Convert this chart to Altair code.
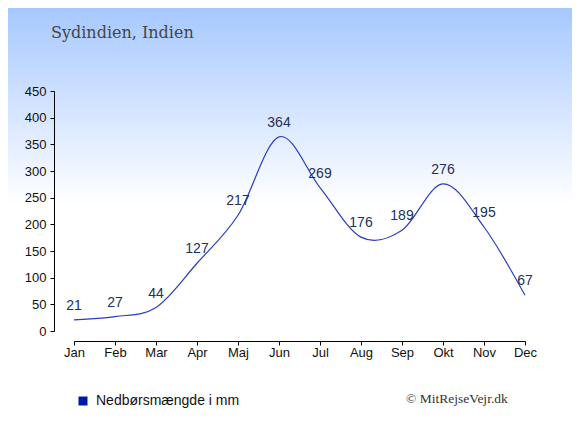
import altair as alt
import pandas as pd

months = ["Jan", "Feb", "Mar", "Apr", "Maj", "Jun", "Jul", "Aug", "Sep", "Okt", "Nov", "Dec"]
values = [21, 27, 44, 127, 217, 364, 269, 176, 189, 276, 195, 67]
series_name = "Nedbørsmængde i mm"
title_text = "Sydindien, Indien"
credit_text = "© MitRejseVejr.dk"
y_ticks = [0, 50, 100, 150, 200, 250, 300, 350, 400, 450]

df = pd.DataFrame({"month": months, "value": values, "series": [series_name] * len(months)})

W, H = 451, 240
PL, PT, PR, PB = 66, 83, 47, 95

gradient = alt.LinearGradient(
    gradient="linear",
    stops=[
        alt.GradientStop(color="#a6c8ff", offset=0),
        alt.GradientStop(color="#ffffff", offset=0.47),
        alt.GradientStop(color="#ffffff", offset=1),
    ],
    x1=0, x2=0, y1=0, y2=1,
)

bg = alt.Chart(pd.DataFrame({"a": [0]})).mark_rect(color=gradient).encode(
    x=alt.value(-PL), x2=alt.value(W + PR), y=alt.value(-PT), y2=alt.value(H + PB)
)

x_enc = alt.X(
    "month:N",
    sort=months,
    scale=alt.Scale(type="point", padding=0),
    axis=alt.Axis(
        title=None, labelAngle=0, offset=10, tickSize=4, labelPadding=1,
        labelFont="Liberation Sans", labelFontSize=13, labelColor="#111111",
        domainColor="#000000", tickColor="#000000", tickWidth=1, grid=False,
        zindex=2, labelOverlap=False,
    ),
)
y_enc = alt.Y(
    "value:Q",
    scale=alt.Scale(domain=[0, 450], nice=False, zero=True),
    axis=alt.Axis(
        title=None, values=y_ticks, offset=20, tickSize=4, labelPadding=4,
        labelFont="Liberation Sans", labelFontSize=13, labelColor="#111111",
        domainColor="#000000", tickColor="#000000", grid=False, zindex=2,
        labelOverlap=False,
    ),
)

line = alt.Chart(df).mark_line(interpolate="cardinal", strokeWidth=1.2).encode(
    x=x_enc,
    y=y_enc,
    color=alt.Color(
        "series:N",
        scale=alt.Scale(range=["#2b3bc0"]),
        legend=alt.Legend(
            title=None, orient="none", legendX=2, legendY=303,
            symbolType="square", symbolSize=81, symbolFillColor="#0018a8",
            symbolStrokeWidth=0, labelFont="Liberation Sans", labelFontSize=14,
            labelColor="#111111", padding=0, labelOffset=6,
        ),
    ),
)

labels = alt.Chart(df).mark_text(
    dy=-14, fontSize=14, font="Liberation Sans", color="#22305a"
).encode(x=x_enc, y=y_enc, text="value:Q")

title = alt.Chart(pd.DataFrame({"t": [title_text]})).mark_text(
    align="left", baseline="alphabetic", font="DejaVu Serif", fontSize=16, color="#454545"
).encode(x=alt.value(51 - 74), y=alt.value(38 - 91), text="t:N")

credit = alt.Chart(pd.DataFrame({"t": [credit_text]})).mark_text(
    align="left", baseline="alphabetic", font="Liberation Serif", fontSize=13.5, color="#333333"
).encode(x=alt.value(406 - 74), y=alt.value(403 - 91), text="t:N")

chart = alt.layer(bg, line, labels, title, credit).properties(
    width=W, height=H,
    padding={"left": PL, "top": PT, "right": PR, "bottom": PB},
    autosize=alt.AutoSizeParams(type="none"),
).configure_view(stroke=None)

chart.save("out.html", embed_options={"renderer": "svg", "actions": False})
